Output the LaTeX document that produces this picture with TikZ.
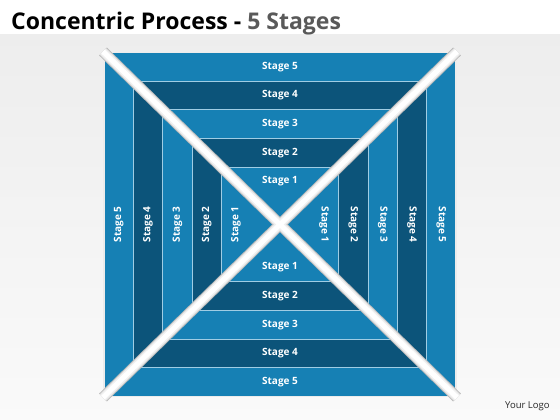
\documentclass[tikz,border=0pt]{standalone}
\usepackage{fontspec}
\setmainfont{Open Sans}
\definecolor{medblue}{RGB}{22,128,180}
\definecolor{darkblue}{RGB}{12,84,122}
\definecolor{titlegray}{RGB}{89,89,89}
\definecolor{sepline}{RGB}{160,205,228}
\begin{document}
\begin{tikzpicture}[x=1pt,y=-1pt,
  lab/.style={text=white,font=\bfseries\fontsize{10}{12}\selectfont,inner sep=0pt},
  ring/.style={draw=sepline,line width=0.8pt}]
\useasboundingbox (0,0) rectangle (560,420);
\fill[white] (0,0) rectangle (560,420);
\shade[top color=gray!14, bottom color=gray!4] (0,35) rectangle (560,420);
\def\cx{280}\def\cy{224.5}\def\hx{176}\def\hy{172}
\foreach \k/\col in {6/medblue,5/darkblue,4/medblue,3/darkblue,2/medblue}{
  \filldraw[ring,fill=\col] ({\cx-\hx*\k/6},{\cy-\hy*\k/6}) rectangle ({\cx+\hx*\k/6},{\cy+\hy*\k/6});
}
\draw[white!85!gray,line width=1.2pt] ({\cx-\hx},{\cy-\hy}) rectangle ({\cx+\hx},{\cy+\hy});
\coordinate (tl) at ({\cx-\hx-1},{\cy-\hy-1});
\coordinate (br) at ({\cx+\hx+1},{\cy+\hy+1});
\coordinate (tr) at ({\cx+\hx+1},{\cy-\hy-1});
\coordinate (bl) at ({\cx-\hx-1},{\cy+\hy+1});
\foreach \c/\w in {gray!55/11,gray!30/9.5,gray!12/8,white/5}{
  \draw[\c,line width=\w pt] (tl) -- (br);
  \draw[\c,line width=\w pt] (tr) -- (bl);
}
\foreach \s/\f in {5/11,4/9,3/7,2/5,1/3}{
  \node[lab] (t\s) at (\cx,{\cy-\hy*\f/12}) {Stage \s};
  \node[lab] (b\s) at (\cx,{\cy+\hy*\f/12}) {Stage \s};
  \node[lab,rotate=90] (l\s) at ({\cx-\hx*\f/12},\cy) {Stage \s};
  \node[lab,rotate=-90] (r\s) at ({\cx+\hx*\f/12},\cy) {Stage \s};
}
\node[anchor=base west,inner sep=0pt,font=\bfseries\fontsize{23}{26}\selectfont] (title) at (11,30) {Concentric Process - \textcolor{titlegray}{5 Stages}};
\node[anchor=base west,inner sep=0pt,font=\fontsize{9.5}{11}\selectfont,text=black!85] (logo) at (505,408) {Your Logo};
\end{tikzpicture}
\end{document}
